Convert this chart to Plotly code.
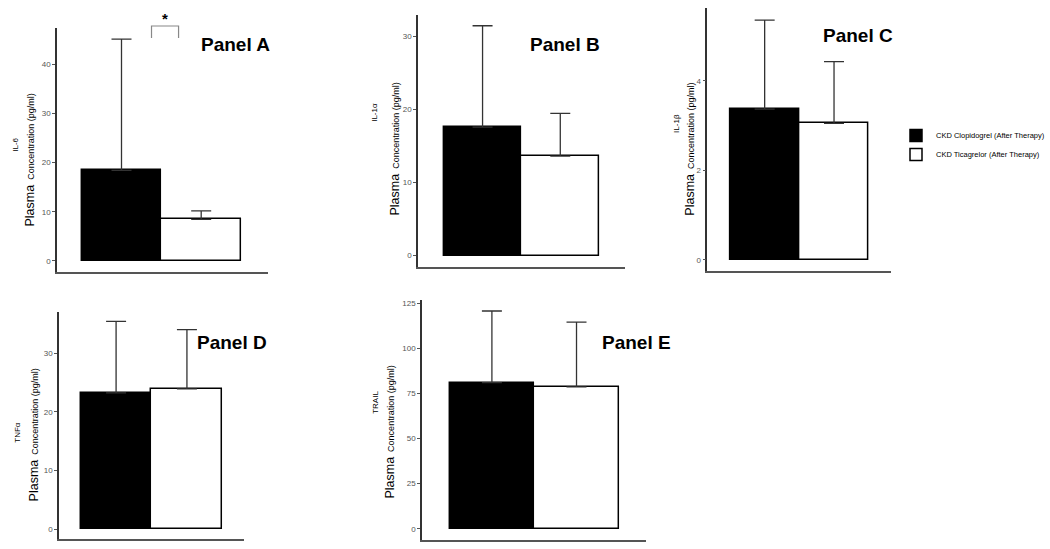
import plotly.graph_objects as go

# ---------------- data ----------------
panels = ["IL-6", "IL-1α", "IL-1β", "TNFα", "TRAIL"]
panel_titles = ["Panel A", "Panel B", "Panel C", "Panel D", "Panel E"]
series_names = ["CKD Clopidogrel (After Therapy)", "CKD Ticagrelor (After Therapy)"]
clopidogrel_mean = [18.4, 17.6, 3.37, 23.2, 81.0]
clopidogrel_sd = [26.7, 13.9, 1.99, 12.2, 39.7]
ticagrelor_mean = [8.45, 13.65, 3.05, 23.9, 78.6]
ticagrelor_sd = [1.75, 5.85, 1.38, 10.1, 35.9]
y_ticks = [[0, 10, 20, 30, 40], [0, 10, 20, 30], [0, 2, 4], [0, 10, 20, 30], [0, 25, 50, 75, 100, 125]]
y_ranges = [[-2.24, 47.36], [-1.55, 32.97], [-0.25, 5.63], [-1.7, 37.0], [-6.27, 126.8]]
y_label_small = ["IL-6", "IL-1α", "IL-1β", "TNFα", "TRAIL"]

# ---------------- layout geometry (pixels) ----------------
W, H = 1050, 549
# x_left, x_right, y_top, y_bottom, group_left, group_right
geom = [
    (58, 272, 28, 272, 83, 245),
    (425, 635, 15, 267, 451, 609),
    (719, 906, 8, 271, 742, 883),
    (60, 248, 312, 539, 82, 226),
    (429, 657, 300, 540, 457, 629),
]
title_pos = [(239, 45), (574, 45), (872, 36), (236, 342), (647, 342)]
ylab_pos = [(31, 160), (401, 149), (701, 149), (35, 435), (396, 432)]
small_pos = [(15, 145), (380, 112), (687, 123), (17, 432), (381, 402)]

fills = ["black", "white"]
means = [clopidogrel_mean, ticagrelor_mean]
sds = [clopidogrel_sd, ticagrelor_sd]

fig = go.Figure()
layout_axes = {}
annotations = []

for i, name in enumerate(panels):
    xl, xr, yt, yb, gl, gr = geom[i]
    ax = "" if i == 0 else str(i + 1)
    g = gr - gl
    c = (gl + gr) / 2
    for s in range(2):
        fig.add_trace(go.Bar(
            x=[name], y=[means[s][i]],
            name=series_names[s], legendgroup=series_names[s],
            showlegend=(i == 0),
            marker=dict(color=fills[s], line=dict(color="black", width=1.5)),
            error_y=dict(type="data", symmetric=False, array=[sds[s][i]], arrayminus=[0],
                         color="#333333", thickness=1.3, width=10),
            xaxis="x" + ax, yaxis="y" + ax,
        ))
    layout_axes["xaxis" + ax] = dict(
        domain=[xl / W, xr / W], anchor="y" + ax, type="category",
        range=[(xl - c) / g, (xr - c) / g], showticklabels=False, ticks="",
        showline=True, linecolor="#555555", linewidth=1.6, showgrid=False, zeroline=False,
        fixedrange=True,
    )
    layout_axes["yaxis" + ax] = dict(
        domain=[1 - yb / H, 1 - yt / H], anchor="x" + ax, range=y_ranges[i],
        tickvals=y_ticks[i], ticks="outside", ticklen=3, tickwidth=1, tickcolor="#555555",
        tickfont=dict(family="Liberation Sans", size=8, color="#555555"),
        showline=True, linecolor="#333333", linewidth=1.6, showgrid=False, zeroline=False,
    )
    tx, ty = title_pos[i]
    annotations.append(dict(
        text=panel_titles[i], x=tx / W, y=1 - ty / H, xref="paper", yref="paper",
        showarrow=False, xanchor="center", yanchor="middle",
        font=dict(family="Liberation Sans", size=19, color="black", weight="bold"),
    ))
    lx, ly = ylab_pos[i]
    annotations.append(dict(
        text="<span style='font-size:12.5px'>Plasma</span>&nbsp;&nbsp;<span style='font-size:9px'>Concentration (pg/ml)</span>",
        x=lx / W, y=1 - ly / H, xref="paper", yref="paper", textangle=-90,
        showarrow=False, xanchor="center", yanchor="middle",
        font=dict(family="Liberation Sans", size=9, color="black"),
    ))
    sx, sy = small_pos[i]
    annotations.append(dict(
        text=y_label_small[i], x=sx / W, y=1 - sy / H, xref="paper", yref="paper",
        textangle=-90, showarrow=False, xanchor="center", yanchor="middle",
        font=dict(family="Liberation Sans", size=8, color="black"),
    ))

# significance marker (Panel A)
annotations.append(dict(
    text="*", x=168 / W, y=1 - 19 / H, xref="paper", yref="paper", showarrow=False,
    xanchor="center", yanchor="middle",
    font=dict(family="Liberation Sans", size=15, color="black", weight="bold"),
))
shapes = [dict(
    type="path", xref="paper", yref="paper",
    path="M {:.5f},{:.5f} L {:.5f},{:.5f} L {:.5f},{:.5f} L {:.5f},{:.5f}".format(
        154 / W, 1 - 38 / H, 154 / W, 1 - 26 / H, 181.5 / W, 1 - 26 / H, 181.5 / W, 1 - 38 / H),
    line=dict(color="#888888", width=1.2),
)]

fig.update_layout(
    width=W, height=H,
    margin=dict(l=0, r=0, t=0, b=0),
    paper_bgcolor="white", plot_bgcolor="white",
    barmode="group", bargap=0, bargroupgap=0,
    showlegend=True,
    legend=dict(
        x=911 / W, y=1 - 121 / H, xanchor="left", yanchor="top",
        font=dict(family="Liberation Sans", size=7.5, color="black"),
        itemwidth=30, tracegroupgap=0, bgcolor="rgba(0,0,0,0)",
    ),
    annotations=annotations,
    shapes=shapes,
    **layout_axes,
)

fig.write_html(
    "out.html",
    config={"displayModeBar": False},
    post_script="document.body.style.margin='0';document.body.style.overflow='hidden';",
)
